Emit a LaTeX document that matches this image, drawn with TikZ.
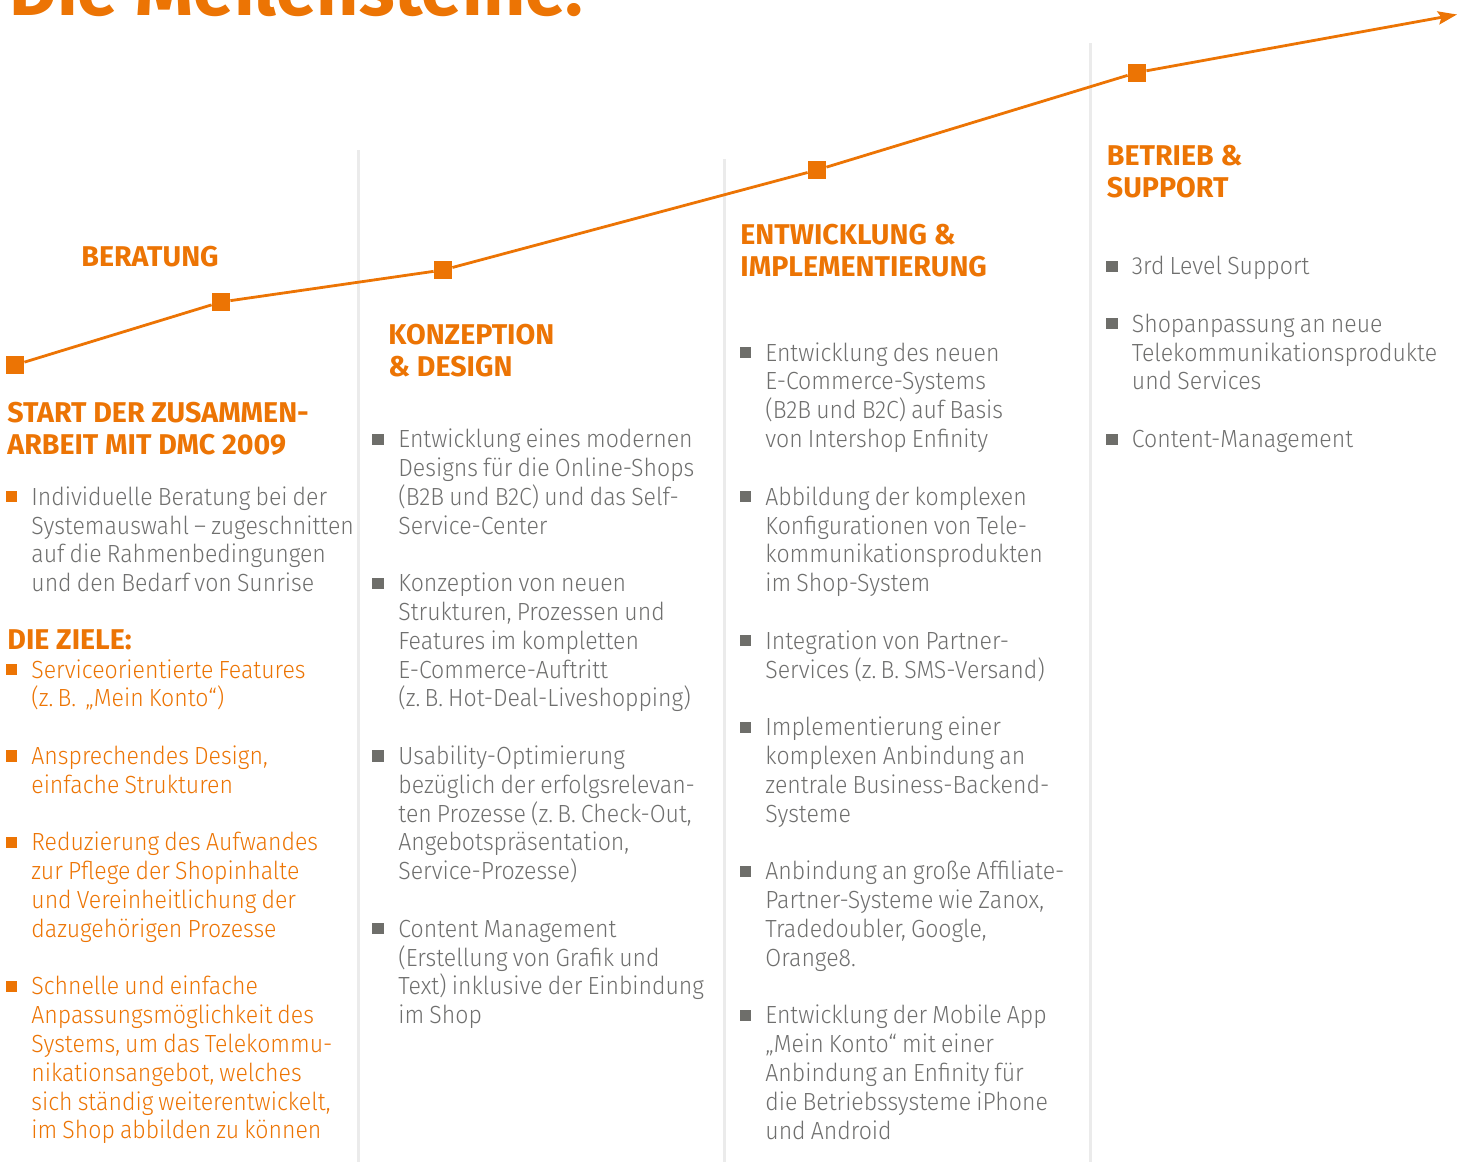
\documentclass[tikz,border=0pt]{standalone}
\usepackage{fontspec}
\usepackage{graphicx}
\usetikzlibrary{arrows.meta}
\IfFontExistsTF{Fira Sans Light}{\newfontfamily\bodyfam{Fira Sans Light}[FakeStretch=0.93, WordSpace=0.8]}{\newfontfamily\bodyfam{Fira Sans}[FakeStretch=0.93, WordSpace=0.8]}
\newfontfamily\headfam{Fira Sans}
\newcommand\headsel{\headfam\bfseries}
\newfontfamily\titlefam{Fira Sans}
\definecolor{dmcorange}{RGB}{236,116,4}
\definecolor{txtgray}{RGB}{111,111,110}
\definecolor{bulgray}{RGB}{110,110,106}
\definecolor{divgray}{RGB}{235,235,235}
\newcommand{\mylines}[1]{\parbox[t]{260pt}{\raggedright #1}}
\tikzset{
  body/.style={font=\bodyfam\fontsize{12.4}{14.405}\selectfont, text=txtgray, inner sep=0pt, anchor=base west},
  goal/.style={body, text=dmcorange},
  head/.style={font=\headsel\fontsize{14.3}{16}\selectfont, text=dmcorange, inner sep=0pt, anchor=base west},
  bsq/.style={rectangle, minimum size=5.6pt, inner sep=0pt, draw=none},
  obul/.style={bsq, fill=dmcorange},
  gbul/.style={bsq, fill=bulgray},
  marker/.style={rectangle, minimum size=9pt, inner sep=0pt, fill=dmcorange},
  timeline/.style={draw=dmcorange, line width=1.4pt},
  divider/.style={draw=divgray, line width=1.5pt},
}
\begin{document}
\begin{tikzpicture}[x=0.5pt,y=-0.5pt]
\useasboundingbox (0,0) rectangle (1469,1162);
% title (mostly cut off at the top)
\node[inner sep=0pt, anchor=base west, text=dmcorange, font=\titlefam\bfseries] (title) at (9,15) {\resizebox{287pt}{!}{Die Meilensteine:}};
% dividers
\coordinate (d1t) at (358,150); \coordinate (d1b) at (358,1162);
\coordinate (d2t) at (724,159); \coordinate (d2b) at (724,1162);
\coordinate (d3t) at (1090,43); \coordinate (d3b) at (1090,1162);
\draw[divider] (d1t) -- (d1b);
\draw[divider] (d2t) -- (d2b);
\draw[divider] (d3t) -- (d3b);
% timeline
\node[marker] (m1) at (15,365) {};
\node[marker] (m2) at (221,302) {};
\node[marker] (m3) at (443,270) {};
\node[marker] (m4) at (817,170) {};
\node[marker] (m5) at (1137,72.5) {};
\coordinate (tip) at (1457,14.5);
\draw[timeline] (m1) -- (m2);
\draw[timeline] (m2) -- (m3);
\draw[timeline] (m3) -- (m4);
\draw[timeline] (m4) -- (m5);
\draw[timeline, -{Stealth[length=9.5pt, width=6.6pt, inset=1.6pt]}] (m5) -- (tip);
% ---------- column 1
\node[head] (h1) at (81,266) {BERATUNG};
\node[head] (h2) at (7,422.3) {\mylines{START DER ZUSAMMEN-\\ARBEIT MIT DMC 2009}};
\node[obul] (b11) at (11.5,496.7) {};
\node[body] (t11) at (31,505.2) {\mylines{Individuelle Beratung bei der\\Systemauswahl – zugeschnitten\\auf die Rahmenbedingungen\\und den Bedarf von Sunrise}};
\node[head] (h3) at (7,649.2) {DIE ZIELE:};
\node[obul] (b12) at (11.5,669.5) {};
\node[goal] (t12) at (31,678.0) {\mylines{Serviceorientierte Features\\(z.\,B. \,„Mein Konto“)}};
\node[obul] (b13) at (11.5,756.0) {};
\node[goal] (t13) at (31,764.5) {\mylines{Ansprechendes Design,\\einfache Strukturen}};
\node[obul] (b14) at (11.5,842.4) {};
\node[goal] (t14) at (31,850.9) {\mylines{Reduzierung des Aufwandes\\zur Pflege der Shopinhalte\\und Vereinheitlichung der\\dazugehörigen Prozesse}};
\node[obul] (b15) at (11.5,986.5) {};
\node[goal] (t15) at (31,994.9) {\mylines{Schnelle und einfache\\Anpassungsmöglichkeit des\\Systems, um das Telekommu-\\nikationsangebot, welches\\sich ständig weiterentwickelt,\\im Shop abbilden zu können}};
% ---------- column 2
\node[head] (h4) at (388,344) {\mylines{KONZEPTION\\\& DESIGN}};
\node[gbul] (b21) at (378,439.1) {};
\node[body] (t21) at (398,447.6) {\mylines{Entwicklung eines modernen\\Designs für die Online-Shops\\(B2B und B2C) und das Self-\\Service-Center}};
\node[gbul] (b22) at (378,583.1) {};
\node[body] (t22) at (398,591.6) {\mylines{Konzeption von neuen\\Strukturen, Prozessen und\\Features im kompletten\\E-Commerce-Auftritt\\(z.\,B. Hot-Deal-Liveshopping)}};
\node[gbul] (b23) at (378,756.0) {};
\node[body] (t23) at (398,764.5) {\mylines{Usability-Optimierung\\bezüglich der erfolgsrelevan-\\ten Prozesse (z.\,B. Check-Out,\\Angebotspräsentation,\\Service-Prozesse)}};
\node[gbul] (b24) at (378,928.8) {};
\node[body] (t24) at (398,937.3) {\mylines{Content Management\\(Erstellung von Grafik und\\Text) inklusive der Einbindung\\im Shop}};
% ---------- column 3
\node[head] (h5) at (740,244) {\mylines{ENTWICKLUNG \&\\IMPLEMENTIERUNG}};
\node[gbul] (b31) at (745.5,352.6) {};
\node[body] (t31) at (765,361.1) {\mylines{Entwicklung des neuen\\E-Commerce-Systems\\(B2B und B2C) auf Basis\\von Intershop Enfinity}};
\node[gbul] (b32) at (745.5,496.7) {};
\node[body] (t32) at (765,505.2) {\mylines{Abbildung der komplexen\\Konfigurationen von Tele-\\kommunikationsprodukten\\im Shop-System}};
\node[gbul] (b33) at (745.5,640.7) {};
\node[body] (t33) at (765,649.2) {\mylines{Integration von Partner-\\Services (z.\,B. SMS-Versand)}};
\node[gbul] (b34) at (745.5,727.2) {};
\node[body] (t34) at (765,735.7) {\mylines{Implementierung einer\\komplexen Anbindung an\\zentrale Business-Backend-\\Systeme}};
\node[gbul] (b35) at (745.5,871.2) {};
\node[body] (t35) at (765,879.7) {\mylines{Anbindung an große Affiliate-\\Partner-Systeme wie Zanox,\\Tradedoubler, Google,\\Orange8.}};
\node[gbul] (b36) at (745.5,1015.3) {};
\node[body] (t36) at (765,1023.8) {\mylines{Entwicklung der Mobile App\\„Mein Konto“ mit einer\\Anbindung an Enfinity für\\die Betriebssysteme iPhone\\und Android}};
% ---------- column 4
\node[head] (h6) at (1106.5,165.7) {\mylines{BETRIEB \&\\SUPPORT}};
\node[gbul] (b41) at (1112,266.2) {};
\node[body] (t41) at (1131.5,274.7) {\mylines{3rd Level Support}};
\node[gbul] (b42) at (1112,323.8) {};
\node[body] (t42) at (1131.5,332.3) {\mylines{Shopanpassung an neue\\Telekommunikationsprodukte\\und Services}};
\node[gbul] (b43) at (1112,439.1) {};
\node[body] (t43) at (1131.5,447.6) {\mylines{Content-Management}};
\end{tikzpicture}
\end{document}
